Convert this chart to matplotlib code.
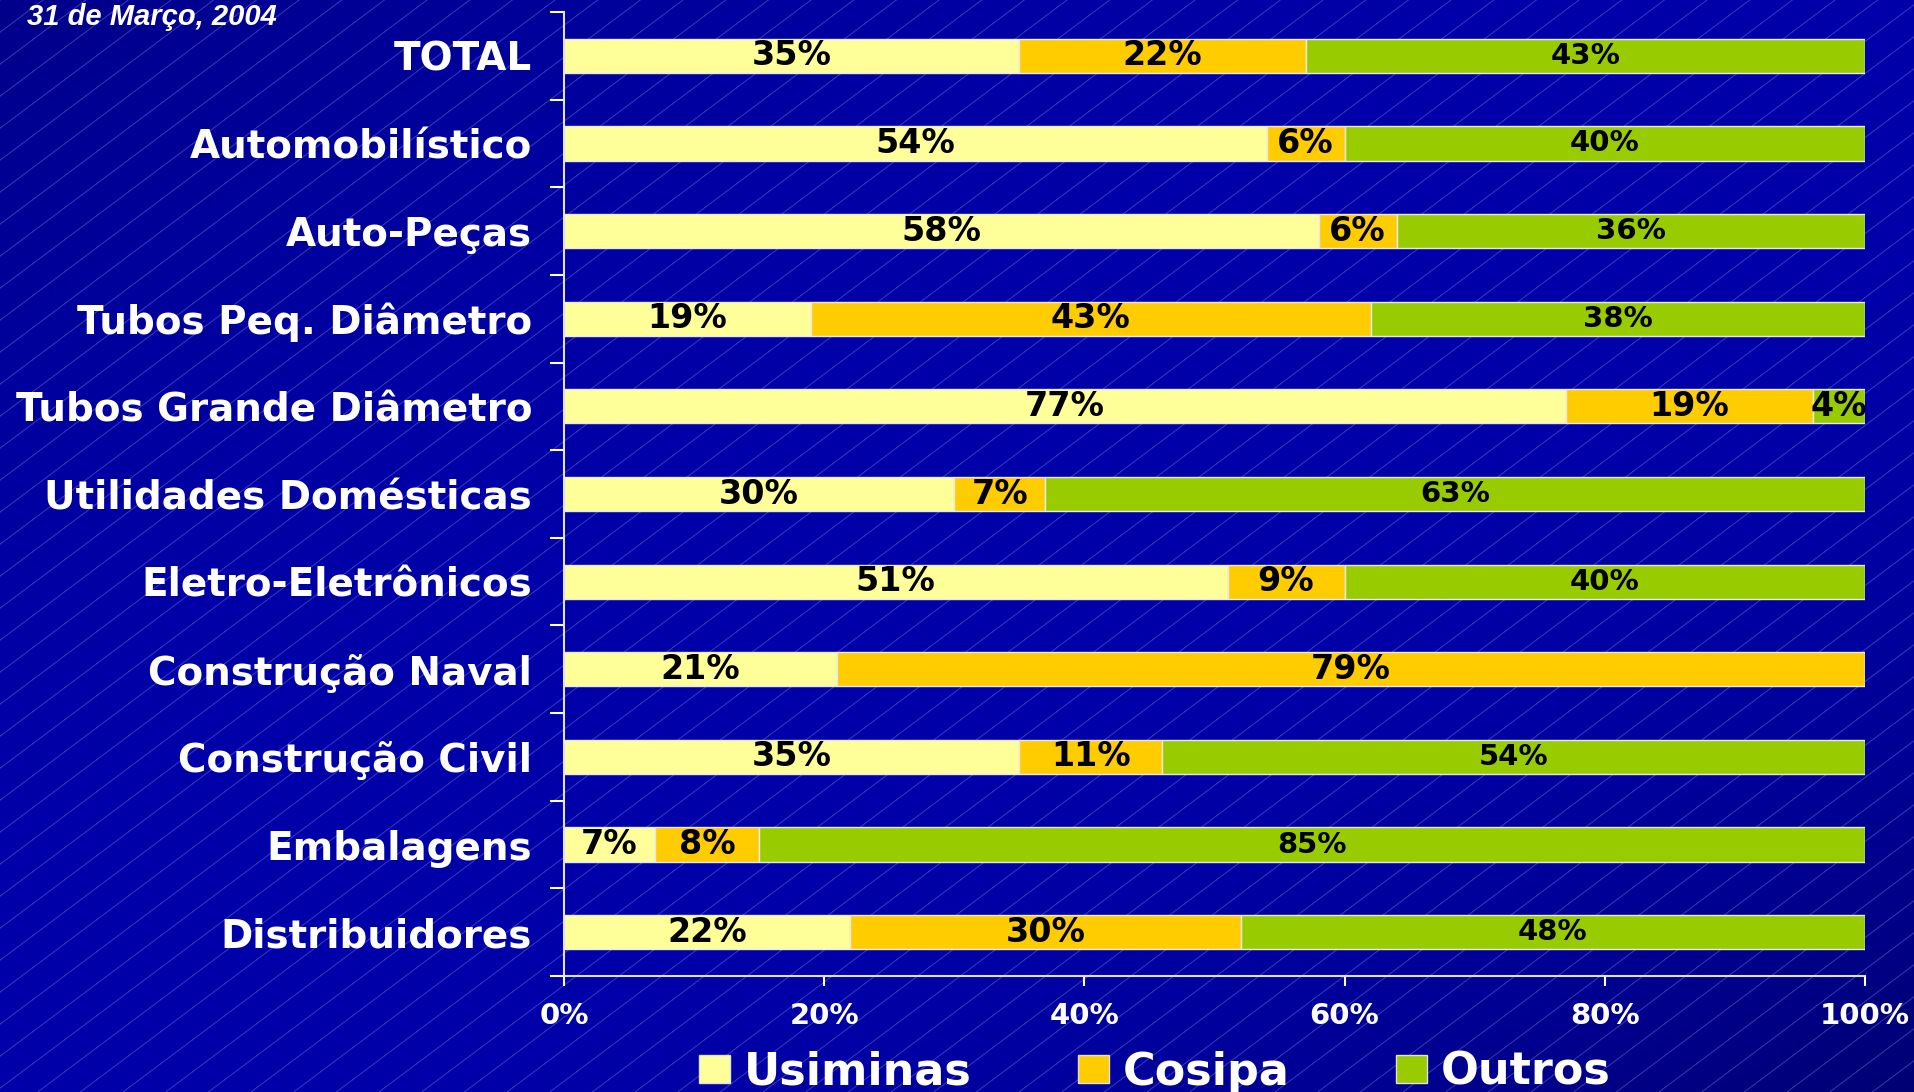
import numpy as np
import matplotlib.pyplot as plt
from matplotlib.patches import Patch

# ---- data ----
categories = [
    "TOTAL",
    "Automobilístico",
    "Auto-Peças",
    "Tubos Peq. Diâmetro",
    "Tubos Grande Diâmetro",
    "Utilidades Domésticas",
    "Eletro-Eletrônicos",
    "Construção Naval",
    "Construção Civil",
    "Embalagens",
    "Distribuidores",
]
usiminas = [35, 54, 58, 19, 77, 30, 51, 21, 35, 7, 22]
cosipa = [22, 6, 6, 43, 19, 7, 9, 79, 11, 8, 30]
outros = [43, 40, 36, 38, 4, 63, 40, 0, 54, 85, 48]

series_names = ["Usiminas", "Cosipa", "Outros"]
x_ticks = [0, 20, 40, 60, 80, 100]
title = "31 de Março, 2004"

colors = ["#FFFF99", "#FFCC00", "#99CC00"]

W, H = 1915, 1092
fig = plt.figure(figsize=(W / 100, H / 100), dpi=100)

# ---- background: blue gradient with thin diagonal lines ----
bg = fig.add_axes([0, 0, 1, 1], zorder=-10)
gx, gy = np.meshgrid(np.linspace(0, 1, 400), np.linspace(0, 1, 240))
d = gx - gy
blue = np.where(d > 0, 0xAA - 55 * np.abs(d) ** 2.5, 0xAA - 32 * d ** 2) / 255
img = np.dstack([np.zeros_like(blue), np.zeros_like(blue), blue])
bg.imshow(img, origin="lower", extent=[0, W, 0, H], aspect="auto")
slope = 0.75
step = 32
for c in np.arange(-slope * W, H, step):
    bg.plot([0, W], [c, c + slope * W], color="#8080E8", lw=0.7, alpha=0.45)
bg.set_xlim(0, W)
bg.set_ylim(0, H)
bg.axis("off")

# ---- main chart ----
ax = fig.add_axes([564 / W, 1 - 976 / H, (1865 - 564) / W, (976 - 12) / H])
ax.set_facecolor("none")

y = np.arange(len(categories))
bar_h = 0.39
left = np.zeros(len(categories))
for name, vals, col in zip(series_names, [usiminas, cosipa, outros], colors):
    vals = np.array(vals, dtype=float)
    ax.barh(y, vals, left=left, height=bar_h, color=col,
            edgecolor="#E8E8E8", linewidth=1, label=name)
    for yi, l, v in zip(y, left, vals):
        if v <= 0:
            continue
        size = 21 if (name == "Outros" and v >= 10) else 24
        ax.text(l + v / 2, yi, f"{int(v)}%", ha="center", va="center",
                fontsize=size, fontweight="bold", color="black")
    left = left + vals

ax.set_xlim(0, 100)
ax.set_ylim(len(categories) - 0.5, -0.5)

ax.set_yticks(y)
ax.set_yticklabels(categories)
ax.set_yticks(np.arange(len(categories) + 1) - 0.5, minor=True)
ax.tick_params(axis="y", which="major", length=0, pad=23,
               labelsize=28, labelcolor="white")
ax.tick_params(axis="y", which="minor", length=10, width=1.5, color="white")
for lab in ax.get_yticklabels():
    lab.set_fontweight("bold")

ax.set_xticks(x_ticks)
ax.set_xticklabels([f"{t}%" for t in x_ticks])
ax.tick_params(axis="x", length=7, width=1.5, color="white", pad=12,
               labelsize=21, labelcolor="white")
for lab in ax.get_xticklabels():
    lab.set_fontweight("bold")

for side in ["top", "right"]:
    ax.spines[side].set_visible(False)
for side in ["left", "bottom"]:
    ax.spines[side].set_color("#E0E0F0")
    ax.spines[side].set_linewidth(1.5)

handles = [Patch(facecolor=c, edgecolor="#E0E0E0", label=n)
           for c, n in zip(colors, series_names)]
leg = fig.legend(handles=handles, loc="center", ncol=3,
                 bbox_to_anchor=(0.603, 1 - 1072 / H), frameon=False,
                 prop={"size": 32, "weight": "bold"},
                 handlelength=0.7, handleheight=0.6, handletextpad=0.3,
                 columnspacing=2.4)
for t in leg.get_texts():
    t.set_color("white")

fig.text(27 / W, 1 - 3 / H, title, ha="left", va="top", color="white",
         fontsize=21, fontweight="bold", fontstyle="italic",
         family="Liberation Sans")

fig.savefig("out.png", dpi=100)
